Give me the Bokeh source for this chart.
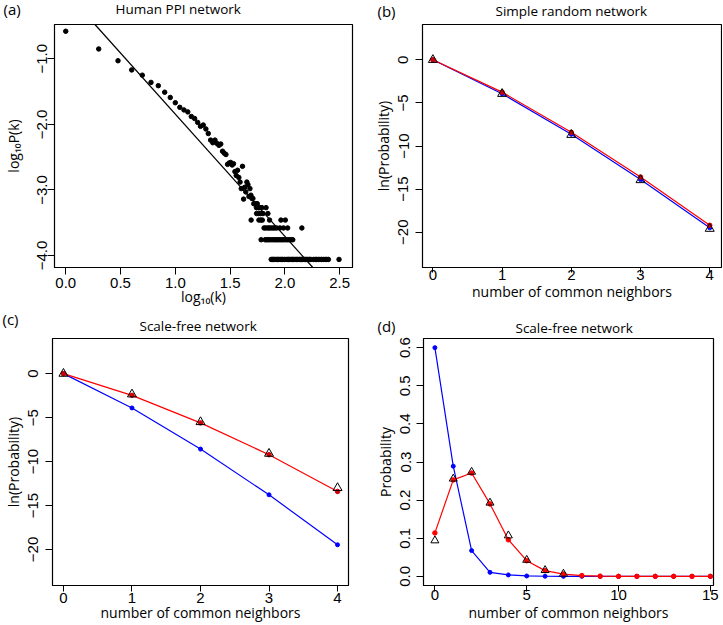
from bokeh.plotting import figure
from bokeh.models import FixedTicker, Slope, Range1d, Title
from bokeh.layouts import column, row
from bokeh.embed import file_html
from bokeh.resources import INLINE

# ---------------- Panel (a): Human PPI network degree distribution ----------------
a_logk = [0.000, 0.301, 0.477, 0.602, 0.699, 0.778, 0.845, 0.903, 0.954, 1.000,
          1.041, 1.079, 1.114, 1.146, 1.176, 1.204, 1.230, 1.255, 1.279, 1.301,
          1.322, 1.342, 1.362, 1.380, 1.398, 1.415, 1.431, 1.447, 1.462, 1.477,
          1.491, 1.505, 1.519, 1.531, 1.544, 1.556, 1.568, 1.580, 1.591, 1.602,
          1.613, 1.623, 1.633, 1.643, 1.653, 1.663, 1.672, 1.681, 1.690, 1.699,
          1.708,
          1.716, 1.732, 1.748,
          1.740, 1.756, 1.771, 1.790, 1.828,
          1.742, 1.760, 1.778, 1.800, 1.845,
          1.692, 1.763, 1.780, 1.794, 1.860, 1.964, 2.004,
          1.810, 1.826, 1.845, 1.857, 1.875, 1.892, 1.908, 1.925, 1.955, 1.987, 2.025, 2.155,
          1.783, 1.820, 1.833, 1.848, 1.863, 1.881, 1.898, 1.914, 1.929, 1.944, 1.960,
          1.976, 1.991, 2.009, 2.025, 2.041, 2.057, 2.072,
          1.875, 1.886, 1.898, 1.909, 1.920, 1.934, 1.944, 1.956, 1.968, 1.980, 1.995,
          2.010, 2.021, 2.033, 2.045, 2.057, 2.068, 2.080, 2.093, 2.104, 2.117, 2.130,
          2.140, 2.152, 2.163, 2.176, 2.188, 2.200, 2.212, 2.225, 2.237, 2.262, 2.276,
          2.290, 2.305, 2.320, 2.335, 2.350, 2.367, 2.382, 2.397, 2.494]
a_logp = [-0.58, -0.85, -1.03, -1.17, -1.25, -1.36, -1.41, -1.51, -1.59, -1.67,
          -1.74, -1.78, -1.81, -1.88, -1.91, -1.97, -2.03, -2.01, -2.07, -2.14,
          -2.24, -2.28, -2.24, -2.29, -2.32, -2.30, -2.41, -2.44, -2.46, -2.61,
          -2.59, -2.58, -2.62, -2.60, -2.72, -2.78, -2.70, -2.81, -2.88, -2.98,
          -2.64, -3.14, -2.96, -3.03, -2.88, -2.92, -3.10, -2.98, -3.08, -3.13,
          -3.13,
          -3.21, -3.21, -3.21,
          -3.27, -3.27, -3.27, -3.27, -3.27,
          -3.36, -3.36, -3.36, -3.36, -3.36,
          -3.46, -3.46, -3.46, -3.46, -3.46, -3.46, -3.46,
          -3.58, -3.58, -3.58, -3.58, -3.58, -3.58, -3.58, -3.58, -3.58, -3.58, -3.58, -3.58,
          -3.76, -3.76, -3.76, -3.76, -3.76, -3.76, -3.76, -3.76, -3.76, -3.76, -3.76,
          -3.76, -3.76, -3.76, -3.76, -3.76, -3.76, -3.76,
          -4.06, -4.06, -4.06, -4.06, -4.06, -4.06, -4.06, -4.06, -4.06, -4.06, -4.06,
          -4.06, -4.06, -4.06, -4.06, -4.06, -4.06, -4.06, -4.06, -4.06, -4.06, -4.06,
          -4.06, -4.06, -4.06, -4.06, -4.06, -4.06, -4.06, -4.06, -4.06, -4.06, -4.06,
          -4.06, -4.06, -4.06, -4.06, -4.06, -4.06, -4.06, -4.06, -4.06]
a_fit_slope = -1.864
a_fit_intercept = 0.02
a_xticks = [0, 0.5, 1, 1.5, 2, 2.5]
a_xlabels = ["0.0", "0.5", "1.0", "1.5", "2.0", "2.5"]
a_yticks = [-1, -2, -3, -4]
a_ylabels = ["\u22121.0", "\u22122.0", "\u22123.0", "\u22124.0"]

# ---------------- Panels (b), (c): ln(Probability) ----------------
n_common = [0, 1, 2, 3, 4]
b_blue = [0.0, -3.94, -8.64, -13.90, -19.50]
b_red = [0.0, -3.75, -8.41, -13.60, -19.20]
b_tri = [0.0, -3.94, -8.70, -13.95, -19.60]
c_blue = [0.0, -3.90, -8.58, -13.78, -19.47]
c_red = [0.0, -2.47, -5.60, -9.22, -13.40]
c_tri = [0.0, -2.35, -5.50, -9.10, -13.00]
n_ticks = [0, 1, 2, 3, 4]
n_labels = ["0", "1", "2", "3", "4"]
ln_ticks = [0, -5, -10, -15, -20]
ln_labels = ["0", "\u22125", "\u221210", "\u221215", "\u221220"]

# ---------------- Panel (d): Probability ----------------
d_n = [0, 1, 2, 3, 4, 5, 6, 7, 8, 9, 10, 11, 12, 13, 14, 15]
d_blue = [0.600, 0.289, 0.0675, 0.0105, 0.0037, 0.0010, 0.0003, 0.0001,
          0.0, 0.0, 0.0, 0.0, 0.0, 0.0, 0.0, 0.0]
d_red = [0.114, 0.253, 0.271, 0.190, 0.096, 0.041, 0.015, 0.006,
         0.002, 0.0005, 0.0, 0.0, 0.0, 0.0, 0.0, 0.0]
d_tri_n = [0, 1, 2, 3, 4, 5, 6, 7]
d_tri = [0.094, 0.256, 0.274, 0.193, 0.107, 0.043, 0.016, 0.0065]
d_xticks = [0, 5, 10, 15]
d_xlabels = ["0", "5", "10", "15"]
d_yticks = [0.0, 0.1, 0.2, 0.3, 0.4, 0.5, 0.6]
d_ylabels = ["0.0", "0.1", "0.2", "0.3", "0.4", "0.5", "0.6"]

TICK_FONT = "Liberation Sans"
TEXT_FONT = "Open Sans"


def make_fig(w, h, xr, yr, left, right, top, bottom):
    p = figure(width=w, height=h, x_range=Range1d(*xr), y_range=Range1d(*yr),
               output_backend="svg", toolbar_location=None,
               min_border_left=left, min_border_right=right,
               min_border_top=top, min_border_bottom=bottom)
    p.title.visible = False
    p.grid.visible = False
    p.outline_line_color = "black"
    p.outline_line_width = 1.2
    p.outline_line_alpha = 1.0
    p.background_fill_color = "white"
    p.border_fill_color = "white"
    for ax in p.axis:
        ax.axis_line_color = "black"
        ax.major_tick_line_color = "black"
        ax.major_tick_in = 0
        ax.major_tick_out = 7
        ax.minor_tick_line_color = None
        ax.major_label_text_font = TICK_FONT
        ax.major_label_text_font_size = "15px"
        ax.major_label_text_color = "black"
        ax.axis_label_text_font = TEXT_FONT
        ax.axis_label_text_font_size = "14px"
        ax.axis_label_text_font_style = "normal"
        ax.axis_label_text_color = "black"
    p.yaxis.major_label_orientation = "vertical"
    return p


def set_axis(axis, ticks, labels, tick_out, label_standoff, title_standoff):
    axis.ticker = FixedTicker(ticks=ticks)
    axis.major_label_overrides = {t: l for t, l in zip(ticks, labels)}
    axis.major_tick_out = tick_out
    axis.major_label_standoff = label_standoff
    axis.axis_label_standoff = title_standoff


def title_obj(text, size, offset, standoff, valign):
    return Title(text=text, align="left", offset=offset, standoff=standoff,
                 vertical_align=valign, text_font=TEXT_FONT, text_font_size=size,
                 text_font_style="normal", text_color="black")


def add_titles(p, title, t_offset, t_standoff, t_valign, letter, l_offset, l_standoff,
               spacer=None):
    # optional invisible spacer next to the frame, so that the title row can sit higher
    if spacer is not None:
        p.add_layout(title_obj(" ", "1px", 0, spacer, "bottom"), "above")
    p.add_layout(title_obj(title, "13.5px", t_offset, t_standoff, t_valign), "above")
    # panel letter, pulled down into the same row as the title
    p.add_layout(title_obj(letter, "15px", l_offset, l_standoff, "bottom"), "above")


# ---------- (a) ----------
pa = make_fig(360, 310, (-0.1025, 2.617), (-4.183, -0.477), 52, 8, 24, 43)
set_axis(pa.xaxis, a_xticks, a_xlabels, 7, 3, -4)
set_axis(pa.yaxis, a_yticks, a_ylabels, 7, 0, 12)
pa.xaxis.axis_label = "log\u2081\u2080(k)"
pa.yaxis.axis_label = "log\u2081\u2080P(k)"
pa.add_layout(Slope(gradient=a_fit_slope, y_intercept=a_fit_intercept,
                    line_color="black", line_width=1.2))
pa.scatter(a_logk, a_logp, size=4.5, color="black", marker="circle")
add_titles(pa, "Human PPI network", 61, -17, "bottom", "(a)", -51, -24, spacer=12)

# ---------- (b) ----------
pb = make_fig(362, 310, (-0.15, 4.17), (-24.1, 4.1), 62, 1, 23, 41)
set_axis(pb.xaxis, n_ticks, n_labels, 5, -3, -1)
set_axis(pb.yaxis, ln_ticks, ln_labels, 7, 7, 3)
pb.xaxis.axis_label = "number of common neighbors"
pb.yaxis.axis_label = "ln(Probability)"
pb.line(n_common, b_blue, color="blue", line_width=1.2)
pb.scatter(n_common, b_blue, size=4, color="blue")
pb.line(n_common, b_red, color="red", line_width=1.2)
pb.scatter(n_common, b_red, size=4.5, color="#cc0000")
pb.scatter(n_common, b_tri, marker="triangle", size=9, fill_color=None,
           line_color="black", line_width=1)
add_titles(pb, "Simple random network", 73, -17, "bottom", "(b)", -45, -24, spacer=10)

# ---------- (c) ----------
pc = make_fig(360, 314, (-0.16, 4.16), (-24.1, 4.0), 52, 12, 28, 39)
set_axis(pc.xaxis, n_ticks, n_labels, 6, 1, -3)
set_axis(pc.yaxis, ln_ticks, ln_labels, 7, 7, 3)
pc.xaxis.axis_label = "number of common neighbors"
pc.yaxis.axis_label = "ln(Probability)"
pc.line(n_common, c_blue, color="blue", line_width=1.2)
pc.scatter(n_common, c_blue, size=4, color="blue")
pc.line(n_common, c_red, color="red", line_width=1.2)
pc.scatter(n_common, c_red, size=4.5, color="#cc0000")
pc.scatter(n_common, c_tri, marker="triangle", size=9, fill_color=None,
           line_color="black", line_width=1)
add_titles(pc, "Scale-free network", 87, 7, "bottom", "(c)", -50, -35)

# ---------- (d) ----------
pd_ = make_fig(362, 314, (-0.62, 15.17), (-0.024, 0.624), 63, 9, 28, 39)
set_axis(pd_.xaxis, d_xticks, d_xlabels, 6, -2, 0)
set_axis(pd_.yaxis, d_yticks, d_ylabels, 7, 6, 3)
pd_.xaxis.axis_label = "number of common neighbors"
pd_.yaxis.axis_label = "Probability"
pd_.line(d_n, d_blue, color="blue", line_width=1.2)
pd_.scatter(d_n, d_blue, size=4, color="blue")
pd_.line(d_n, d_red, color="red", line_width=1.2)
pd_.scatter(d_n, d_red, size=4.5, color="red")
pd_.scatter(d_tri_n, d_tri, marker="triangle", size=8, fill_color=None,
            line_color="black", line_width=1)
add_titles(pd_, "Scale-free network", 92, 4, "bottom", "(d)", -46, -43)

layout = column(row(pa, pb), row(pc, pd_))
open("out.html", "w").write(file_html(layout, INLINE))
